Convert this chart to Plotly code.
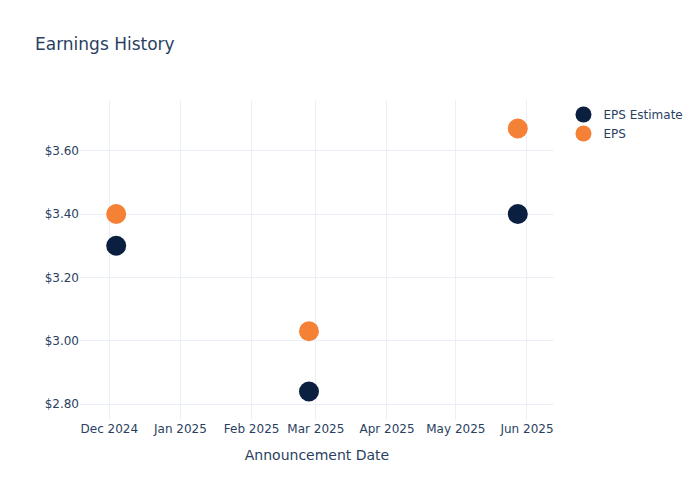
import plotly.graph_objects as go

dates = ["2024-12-04", "2025-02-26", "2025-05-28"]
eps_estimate = [3.30, 2.84, 3.40]
eps_actual = [3.40, 3.03, 3.67]

fig = go.Figure()
fig.add_trace(go.Scatter(x=dates, y=eps_estimate, mode="markers", name="EPS Estimate",
                         marker=dict(size=20, color="#0B1F40")))
fig.add_trace(go.Scatter(x=dates, y=eps_actual, mode="markers", name="EPS",
                         marker=dict(size=20, color="#F58137")))
fig.update_layout(
    template="plotly_white",
    font=dict(family="DejaVu Sans"),
    title=dict(text="Earnings History"),
    xaxis=dict(title=dict(text="Announcement Date"), dtick="M1", tickformat="%b %Y"),
    yaxis=dict(tickprefix="$", tickformat=".2f"),
    width=700, height=500,
)
fig.write_html("out.html", config={"displayModeBar": False},
               post_script="document.body.style.margin='0';")
